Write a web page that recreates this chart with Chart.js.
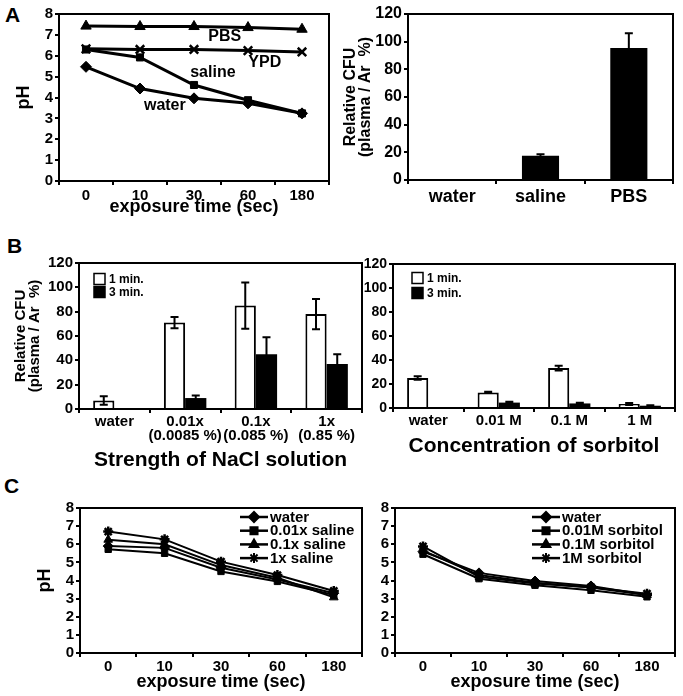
<!DOCTYPE html>
<html>
<head>
<meta charset="utf-8">
<script src="https://cdn.jsdelivr.net/npm/chart.js@4.4.1/dist/chart.umd.min.js"></script>
<style>
  body { margin: 0; background: #fff; }
  #fig { position: relative; width: 683px; height: 696px; overflow: hidden; background: #fff; }
  #fig canvas { position: absolute; }
  .panel-tag { position: absolute; font: bold 21px 'Liberation Sans', Arial, sans-serif; color: #000; line-height: 21px; }
</style>
</head>
<body>
<div id="fig">
  <div class="panel-tag" style="left:5px;top:4px">A</div>
  <div class="panel-tag" style="left:7px;top:235px">B</div>
  <div class="panel-tag" style="left:4px;top:475px">C</div>
  <canvas id="a-ph" width="340" height="222" style="left:0;top:0"></canvas>
  <canvas id="a-cfu" width="343" height="222" style="left:340px;top:0"></canvas>
  <canvas id="b-nacl" width="365" height="252" style="left:0;top:222px"></canvas>
  <canvas id="b-sorb" width="321" height="252" style="left:362px;top:222px"></canvas>
  <canvas id="c-nacl" width="365" height="226" style="left:0;top:470px"></canvas>
  <canvas id="c-sorb" width="321" height="226" style="left:362px;top:470px"></canvas>
</div>
<script>
// ---- data ----
const timeLabels = ['0', '10', '30', '60', '180'];

// A: pH of each solution vs exposure time
const phPBS = [7.42, 7.4, 7.4, 7.35, 7.27];
const phYPD = [6.33, 6.3, 6.3, 6.25, 6.18];
const phSaline = [6.3, 5.92, 4.6, 3.87, 3.24];
const phWater = [5.47, 4.43, 3.96, 3.72, 3.24];

// A: relative CFU
const cfuLabels = ['water', 'saline', 'PBS'];
const cfuValues = [0, 17.5, 95.5];
const cfuErrors = [0, 1.2, 10.5];

// B: NaCl strength
const naclLabels = ['water', ['0.01x', '(0.0085 %)'], ['0.1x', '(0.085 %)'], ['1x', '(0.85 %)']];
const nacl1min = [7, 71, 85, 78];
const nacl1minErr = [3.5, 4.7, 19, 12.5];
const nacl3min = [0, 9, 45, 37];
const nacl3minErr = [0, 2, 14, 8];

// B: sorbitol concentration
const sorbLabels = ['water', '0.01 M', '0.1 M', '1 M'];
const sorb1min = [25, 13, 33.3, 3.3];
const sorb1minErr = [1.5, 0.6, 2, 0.8];
const sorb3min = [0, 4.5, 3.8, 1.9];
const sorb3minErr = [0, 0.8, 0.6, 0.4];

// C: pH with NaCl solutions
const cWater = [5.9, 5.8, 4.7, 4.05, 3.3];
const cSaline001 = [5.72, 5.5, 4.5, 3.95, 3.2];
const cSaline01 = [6.25, 6.0, 4.85, 4.15, 3.07];
const cSaline1 = [6.7, 6.27, 5.04, 4.3, 3.42];

// C: pH with sorbitol solutions
const sWater = [5.6, 4.42, 3.97, 3.7, 3.2];
const sSorb001 = [5.45, 4.1, 3.74, 3.46, 3.1];
const sSorb01 = [5.65, 4.3, 3.88, 3.62, 3.2];
const sSorb1 = [5.88, 4.2, 3.83, 3.63, 3.27];

// ---- look ----
const SANS = "'Liberation Sans', Arial, Helvetica, sans-serif";
const bold = (size, lineHeight) => ({ family: SANS, weight: 'bold', size, lineHeight: lineHeight || 1.2 });

// box around the plot area
const framePlugin = {
    id: 'frame',
    afterDraw(chart) {
        const { ctx, chartArea: a } = chart;
        ctx.save();
        ctx.strokeStyle = '#000';
        ctx.lineWidth = 2;
        ctx.strokeRect(a.left, a.top, a.right - a.left, a.bottom - a.top);
        ctx.restore();
    }
};

// vertical error bars from dataset.errors
const errorBarPlugin = {
    id: 'errorBars',
    afterDatasetsDraw(chart) {
        const ctx = chart.ctx;
        const y = chart.scales.y;
        chart.data.datasets.forEach((ds, di) => {
            if (!ds.errors) return;
            const meta = chart.getDatasetMeta(di);
            meta.data.forEach((el, i) => {
                const e = ds.errors[i];
                if (!e) return;
                const v = ds.data[i];
                const top = y.getPixelForValue(v + e);
                const bot = y.getPixelForValue(Math.max(0, v - e));
                const cap = 4;
                ctx.save();
                ctx.strokeStyle = '#000';
                ctx.lineWidth = 2;
                ctx.beginPath();
                ctx.moveTo(el.x, top); ctx.lineTo(el.x, bot);
                ctx.moveTo(el.x - cap, top); ctx.lineTo(el.x + cap, top);
                ctx.moveTo(el.x - cap, bot); ctx.lineTo(el.x + cap, bot);
                ctx.stroke();
                ctx.restore();
            });
        });
    }
};

// free text labels placed in data space
const notesPlugin = {
    id: 'notes',
    afterDatasetsDraw(chart, args, opts) {
        if (!opts.items) return;
        const { ctx, scales } = chart;
        ctx.save();
        ctx.fillStyle = '#000';
        ctx.font = `bold ${opts.size}px ${SANS}`;
        ctx.textAlign = 'center';
        ctx.textBaseline = 'middle';
        opts.items.forEach(n => {
            ctx.fillText(n.text, scales.x.getPixelForValue(n.x), scales.y.getPixelForValue(n.y));
        });
        ctx.restore();
    }
};

// square swatch legend in the top-left corner (panel B)
const boxLegendPlugin = {
    id: 'boxLegend',
    afterDraw(chart, args, opts) {
        if (!opts.show) return;
        const { ctx, chartArea: a } = chart;
        ctx.save();
        ctx.font = `bold 12px ${SANS}`;
        ctx.textBaseline = 'middle';
        chart.data.datasets.forEach((ds, i) => {
            const x = a.left + opts.x;
            const y = a.top + opts.y + i * opts.step;
            ctx.fillStyle = ds.backgroundColor;
            ctx.fillRect(x, y - 5.5, 11, 11);
            ctx.strokeStyle = '#000';
            ctx.lineWidth = 1.5;
            ctx.strokeRect(x, y - 5.5, 11, 11);
            ctx.fillStyle = '#000';
            ctx.fillText(ds.label, x + 15, y + 0.5);
        });
        ctx.restore();
    }
};

// line + marker legend (panel C)
const lineLegendPlugin = {
    id: 'lineLegend',
    afterDraw(chart, args, opts) {
        if (!opts.show) return;
        const { ctx, chartArea: a } = chart;
        ctx.save();
        ctx.font = `bold 15px ${SANS}`;
        ctx.textBaseline = 'middle';
        chart.data.datasets.forEach((ds, i) => {
            const x = a.left + opts.x;
            const y = a.top + opts.y + i * opts.step;
            ctx.strokeStyle = '#000';
            ctx.fillStyle = '#000';
            ctx.lineWidth = 2.5;
            ctx.beginPath();
            ctx.moveTo(x, y); ctx.lineTo(x + 28, y);
            ctx.stroke();
            ctx.lineWidth = 2;
            Chart.helpers.drawPoint(ctx, { pointStyle: ds.pointStyle, radius: 5, rotation: 0, borderWidth: 2 }, x + 14, y);
            ctx.fillText(ds.label, x + 30, y + 0.5);
        });
        ctx.restore();
    }
};

function makeOptions(cfg) {
    return {
        responsive: false,
        animation: false,
        layout: { autoPadding: false, padding: { left: 0, top: cfg.top, right: cfg.right, bottom: 0 } },
        plugins: Object.assign({ legend: { display: false }, tooltip: { enabled: false } }, cfg.plugins || {}),
        scales: {
            x: {
                type: 'category',
                offset: true,
                grid: { display: true, offset: true, drawOnChartArea: false, drawTicks: true, tickLength: 4, color: '#000', lineWidth: 2 },
                border: { color: '#000', width: 2 },
                ticks: { color: '#000', font: cfg.xFont, padding: cfg.xPad, maxRotation: 0, autoSkip: false },
                title: cfg.xTitle
                    ? { display: true, text: cfg.xTitle, color: '#000', font: cfg.xTitleFont, padding: { top: 0, bottom: cfg.xTitlePad } }
                    : { display: false },
                afterFit: s => { s.height = cfg.xH; }
            },
            y: {
                min: cfg.yMin,
                max: cfg.yMax,
                grid: { display: true, drawOnChartArea: false, drawTicks: true, tickLength: 4, color: '#000', lineWidth: 2 },
                border: { color: '#000', width: 2 },
                ticks: { stepSize: cfg.yStep, color: '#000', font: cfg.yFont, padding: 2, autoSkip: false },
                title: cfg.yTitle
                    ? { display: true, text: cfg.yTitle, color: '#000', font: cfg.yTitleFont, padding: { top: cfg.yTitlePad, bottom: 0 } }
                    : { display: false },
                afterFit: s => { s.width = cfg.yW; }
            }
        }
    };
}

function lineSet(label, data, style, width, radius) {
    return {
        label, data,
        borderColor: '#000', backgroundColor: '#000',
        borderWidth: width,
        pointStyle: style,
        pointRadius: radius,
        pointBackgroundColor: '#000',
        pointBorderColor: '#000',
        pointBorderWidth: style === 'crossRot' || style === 'star' ? 2.5 : 1,
        tension: 0
    };
}

const plugins = [framePlugin, errorBarPlugin, notesPlugin, boxLegendPlugin, lineLegendPlugin];

// ---- A: pH ----
new Chart(document.getElementById('a-ph'), {
    type: 'line',
    data: {
        labels: timeLabels,
        datasets: [
            lineSet('PBS', phPBS, 'triangle', 3, 6),
            lineSet('YPD', phYPD, 'crossRot', 3, 6),
            lineSet('saline', phSaline, 'rect', 3, 5),
            lineSet('water', phWater, 'rectRot', 3, 5.5)
        ]
    },
    options: makeOptions({
        top: 14, right: 11, yW: 59, xH: 41,
        yMin: 0, yMax: 8, yStep: 1,
        xFont: bold(15), xPad: 2, yFont: bold(15, '15px'),
        xTitle: 'exposure time (sec)', xTitleFont: bold(18), xTitlePad: 4,
        yTitle: 'pH', yTitleFont: bold(18), yTitlePad: 13,
        plugins: {
            notes: {
                size: 16,
                items: [
                    { text: 'PBS', x: 2.57, y: 6.9 },
                    { text: 'YPD', x: 3.31, y: 5.65 },
                    { text: 'saline', x: 2.35, y: 5.2 },
                    { text: 'water', x: 1.46, y: 3.6 }
                ]
            }
        }
    }),
    plugins
});

// ---- A: relative CFU ----
new Chart(document.getElementById('a-cfu'), {
    type: 'bar',
    data: {
        labels: cfuLabels,
        datasets: [{
            label: 'CFU', data: cfuValues, errors: cfuErrors,
            backgroundColor: '#000', borderWidth: 0,
            categoryPercentage: 0.42, barPercentage: 1
        }]
    },
    options: makeOptions({
        top: 14, right: 10, yW: 68, xH: 42,
        yMin: 0, yMax: 120, yStep: 20,
        xFont: bold(18), xPad: 2, yFont: bold(16),
        yTitle: ['Relative CFU', '(plasma / Ar  %)'], yTitleFont: bold(16, '15px'), yTitlePad: 3
    }),
    plugins
});

// ---- B: NaCl strength ----
new Chart(document.getElementById('b-nacl'), {
    type: 'bar',
    data: {
        labels: naclLabels,
        datasets: [
            { label: '1 min.', data: nacl1min, errors: nacl1minErr, backgroundColor: '#fff', borderColor: '#000', borderWidth: 2, categoryPercentage: 0.6, barPercentage: 1 },
            { label: '3 min.', data: nacl3min, errors: nacl3minErr, backgroundColor: '#000', borderColor: '#000', borderWidth: 0, categoryPercentage: 0.6, barPercentage: 1 }
        ]
    },
    options: makeOptions({
        top: 41, right: 3, yW: 79, xH: 65,
        yMin: 0, yMax: 120, yStep: 20,
        xFont: bold(15, '14px'), xPad: 2, yFont: bold(15),
        xTitle: 'Strength of NaCl solution', xTitleFont: bold(21), xTitlePad: 1,
        yTitle: ['Relative CFU', '(plasma / Ar  %)'], yTitleFont: bold(15, '14px'), yTitlePad: 14,
        plugins: { boxLegend: { show: true, x: 15, y: 16, step: 13 } }
    }),
    plugins
});

// ---- B: sorbitol ----
new Chart(document.getElementById('b-sorb'), {
    type: 'bar',
    data: {
        labels: sorbLabels,
        datasets: [
            { label: '1 min.', data: sorb1min, errors: sorb1minErr, backgroundColor: '#fff', borderColor: '#000', borderWidth: 2, categoryPercentage: 0.6, barPercentage: 1 },
            { label: '3 min.', data: sorb3min, errors: sorb3minErr, backgroundColor: '#000', borderColor: '#000', borderWidth: 0, categoryPercentage: 0.6, barPercentage: 1 }
        ]
    },
    options: makeOptions({
        top: 42, right: 8, yW: 31, xH: 66,
        yMin: 0, yMax: 120, yStep: 20,
        xFont: bold(15, '14px'), xPad: 2, yFont: bold(14),
        xTitle: 'Concentration of sorbitol', xTitleFont: bold(21), xTitlePad: 15,
        plugins: { boxLegend: { show: true, x: 19, y: 14, step: 15 } }
    }),
    plugins
});

// ---- C: pH in NaCl solutions ----
new Chart(document.getElementById('c-nacl'), {
    type: 'line',
    data: {
        labels: timeLabels,
        datasets: [
            lineSet('water', cWater, 'rectRot', 2, 5),
            lineSet('0.01x saline', cSaline001, 'rect', 2, 4.5),
            lineSet('0.1x saline', cSaline01, 'triangle', 2, 5),
            lineSet('1x saline', cSaline1, 'star', 2, 5)
        ]
    },
    options: makeOptions({
        top: 38, right: 3, yW: 80, xH: 43,
        yMin: 0, yMax: 8, yStep: 1,
        xFont: bold(15), xPad: 1, yFont: bold(15, '14px'),
        xTitle: 'exposure time (sec)', xTitleFont: bold(18), xTitlePad: 3,
        yTitle: 'pH', yTitleFont: bold(18), yTitlePad: 34,
        plugins: { lineLegend: { show: true, x: 160, y: 9, step: 13.7 } }
    }),
    plugins
});

// ---- C: pH in sorbitol solutions ----
new Chart(document.getElementById('c-sorb'), {
    type: 'line',
    data: {
        labels: timeLabels,
        datasets: [
            lineSet('water', sWater, 'rectRot', 2, 5),
            lineSet('0.01M sorbitol', sSorb001, 'rect', 2, 4.5),
            lineSet('0.1M sorbitol', sSorb01, 'triangle', 2, 5),
            lineSet('1M sorbitol', sSorb1, 'star', 2, 5)
        ]
    },
    options: makeOptions({
        top: 38, right: 8, yW: 33, xH: 43,
        yMin: 0, yMax: 8, yStep: 1,
        xFont: bold(15), xPad: 1, yFont: bold(15, '14px'),
        xTitle: 'exposure time (sec)', xTitleFont: bold(18), xTitlePad: 3,
        plugins: { lineLegend: { show: true, x: 137, y: 9, step: 13.7 } }
    }),
    plugins
});
</script>
</body>
</html>
